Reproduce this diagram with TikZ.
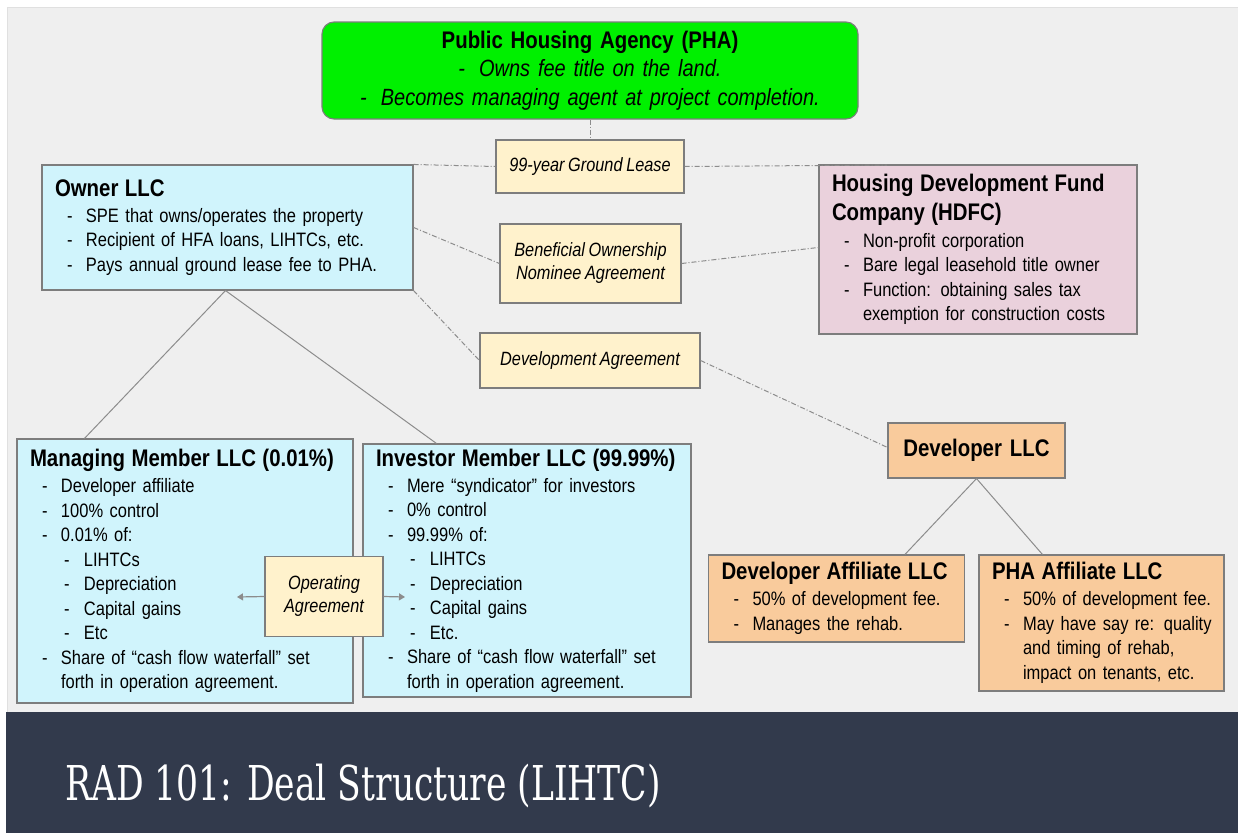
\documentclass[tikz,border=0pt]{standalone}
\usepackage{fontspec}
\setmainfont{Liberation Sans}[FakeStretch=0.85,WordSpace=0.8]
\newfontfamily\bannerfont{DejaVu Serif}[FakeStretch=0.72]
\usetikzlibrary{arrows.meta,calc}
\definecolor{bggray}{RGB}{239,239,239}
\definecolor{bandcol}{RGB}{50,58,76}
\definecolor{phagreen}{RGB}{0,240,0}
\definecolor{agyellow}{RGB}{255,242,204}
\definecolor{llccyan}{RGB}{208,244,252}
\definecolor{hdfcpink}{RGB}{234,209,220}
\definecolor{devorange}{RGB}{249,203,156}
\definecolor{bordergray}{RGB}{125,125,125}
\definecolor{linegray}{RGB}{140,140,140}
\newcommand\itm[1]{\par\noindent\hspace*{12pt}\makebox[19pt][l]{-}\mbox{#1}}
\newcommand\itmm[2]{\itm{#1}\par\noindent\hspace*{31pt}\mbox{#2}}
\newcommand\sitm[1]{\par\noindent\hspace*{34pt}\makebox[20pt][l]{-}\mbox{#1}}
\newcommand\ttl[1]{\noindent{\fontsize{24}{27}\selectfont\bfseries #1\par}\vspace{1.5pt}}
\tikzset{
  box/.style={draw=bordergray, line width=1.1pt, inner xsep=13pt, inner ysep=2pt,
    align=left, font=\fontsize{19.4}{24.5}\selectfont},
  agbox/.style={draw=bordergray, line width=1.1pt, fill=agyellow, inner sep=2pt,
    align=center, font=\fontsize{19.2}{23}\selectfont\itshape},
  tie/.style={draw=linegray, line width=1pt, dash pattern=on 5pt off 2pt on 1pt off 2pt},
  link/.style={draw=linegray, line width=1pt},
  oparrow/.style={draw=linegray, line width=1.2pt, -{Triangle[length=6pt,width=7pt]}}
}
\begin{document}
\begin{tikzpicture}[x=1pt,y=-1pt]
\useasboundingbox (0,0) rectangle (1238,833);
\fill[white] (0,0) rectangle (1238,833);
\filldraw[fill=bggray, draw=black!12, line width=1pt] (7,7) rectangle (1240,712);
\fill[bandcol] (6,712) rectangle (1238,833);

% nodes
\node[box, fill=phagreen, rounded corners=12pt, align=center, text width=510pt,
  minimum height=97pt, font=\fontsize{23.5}{28.5}\selectfont] (pha) at (590,70.5)
  {{\fontsize{24}{28.5}\selectfont\bfseries Public Housing Agency (PHA)}\\
   \textit{-\hspace{14pt}Owns fee title on the land.}\\
   \textit{-\hspace{14pt}Becomes managing agent at project completion.}};

\node[agbox, minimum width=188pt, minimum height=53pt] (lease) at (590,166.5) {99-year Ground Lease};
\node[agbox, minimum width=181pt, minimum height=79pt] (bona) at (590.5,263.5) {Beneficial Ownership\\Nominee Agreement};
\node[agbox, minimum width=220pt, minimum height=55pt] (devag) at (590,360.5) {Development Agreement};

\node[box, fill=llccyan, text width=345pt, minimum height=125pt] (owner) at (227.5,227.5)
  {\ttl{Owner LLC}
   \itm{SPE that owns/operates the property}
   \itm{Recipient of HFA loans, LIHTCs, etc.}
   \itm{Pays annual ground lease fee to PHA.}};

\node[box, fill=hdfcpink, text width=292pt, minimum height=169pt] (hdfc) at (978,249.5)
  {\noindent{\fontsize{24}{29}\selectfont\bfseries Housing Development Fund\newline Company (HDFC)\par}\vspace{2.5pt}
   \itm{Non-profit corporation}
   \itm{Bare legal leasehold title owner}
   \itmm{Function: obtaining sales tax}{exemption for construction costs}};

\node[box, fill=devorange, align=center, text width=151pt, minimum height=55pt,
  font=\fontsize{24}{27}\selectfont\bfseries] (devllc) at (976.5,450.5) {Developer LLC};

\node[box, fill=llccyan, text width=310pt, minimum height=264pt] (mm) at (185,571)
  {\ttl{Managing Member LLC (0.01\%)}
   \itm{Developer affiliate}
   \itm{100\% control}
   \itm{0.01\% of:}
   \sitm{LIHTCs}
   \sitm{Depreciation}
   \sitm{Capital gains}
   \sitm{Etc}
   \itmm{Share of “cash flow waterfall” set}{forth in operation agreement.}};

\node[box, fill=llccyan, text width=302pt, minimum height=253pt] (im) at (527,570.5)
  {\ttl{Investor Member LLC (99.99\%)}
   \itm{Mere “syndicator” for investors}
   \itm{0\% control}
   \itm{99.99\% of:}
   \sitm{LIHTCs}
   \sitm{Depreciation}
   \sitm{Capital gains}
   \sitm{Etc.}
   \itmm{Share of “cash flow waterfall” set}{forth in operation agreement.}};

\node[agbox, minimum width=118pt, minimum height=80pt] (opag) at (324,596.5) {Operating\\Agreement};

\node[box, fill=devorange, text width=230pt, minimum height=87pt] (daff) at (836.5,598.5)
  {\ttl{Developer Affiliate LLC}
   \itm{50\% of development fee.}
   \itm{Manages the rehab.}};

\node[box, fill=devorange, text width=219pt, minimum height=136pt] (phaaff) at (1101.5,623)
  {\ttl{PHA Affiliate LLC}
   \itm{50\% of development fee.}
   \itmm{May have say re: quality}{and timing of rehab,}
   \par\noindent\hspace*{31pt}\mbox{impact on tenants, etc.}};

\node[anchor=base west, text=white, inner sep=0pt,
  font=\bannerfont\fontsize{48}{58}\selectfont] (title) at (65,800) {RAD 101: Deal Structure (LIHTC)};

% dash-dot ties
\coordinate (hdfctop) at (887,165);
\draw[tie] (pha.south) -- (lease.north);
\draw[tie] (owner.north east) -- (lease.west);
\draw[tie] (lease.east) -- (hdfctop);
\draw[tie] ($(owner.north east)+(0,63)$) -- (bona.west);
\draw[tie] (bona.east) -- ($(hdfc.north west)+(0,83)$);
\draw[tie] (owner.south east) -- (devag.west);
\draw[tie] (devag.east) -- ($(devllc.north west)+(0,25)$);

% solid links
\coordinate (ownerb) at ($(owner.south)+(-2,0)$);
\draw[link] (ownerb) -- ($(mm.north west)+(68,0)$);
\draw[link] (ownerb) -- ($(im.north west)+(74,0)$);
\draw[link] (devllc.south) -- ($(daff.north west)+(197,0)$);
\draw[link] (devllc.south) -- ($(phaaff.north west)+(64,0)$);

% operating agreement arrows
\coordinate (opl) at (237,597);
\coordinate (opr) at (405,597);
\draw[oparrow] (opag.west) -- (opl);
\draw[oparrow] (opag.east) -- (opr);
\end{tikzpicture}
\end{document}
